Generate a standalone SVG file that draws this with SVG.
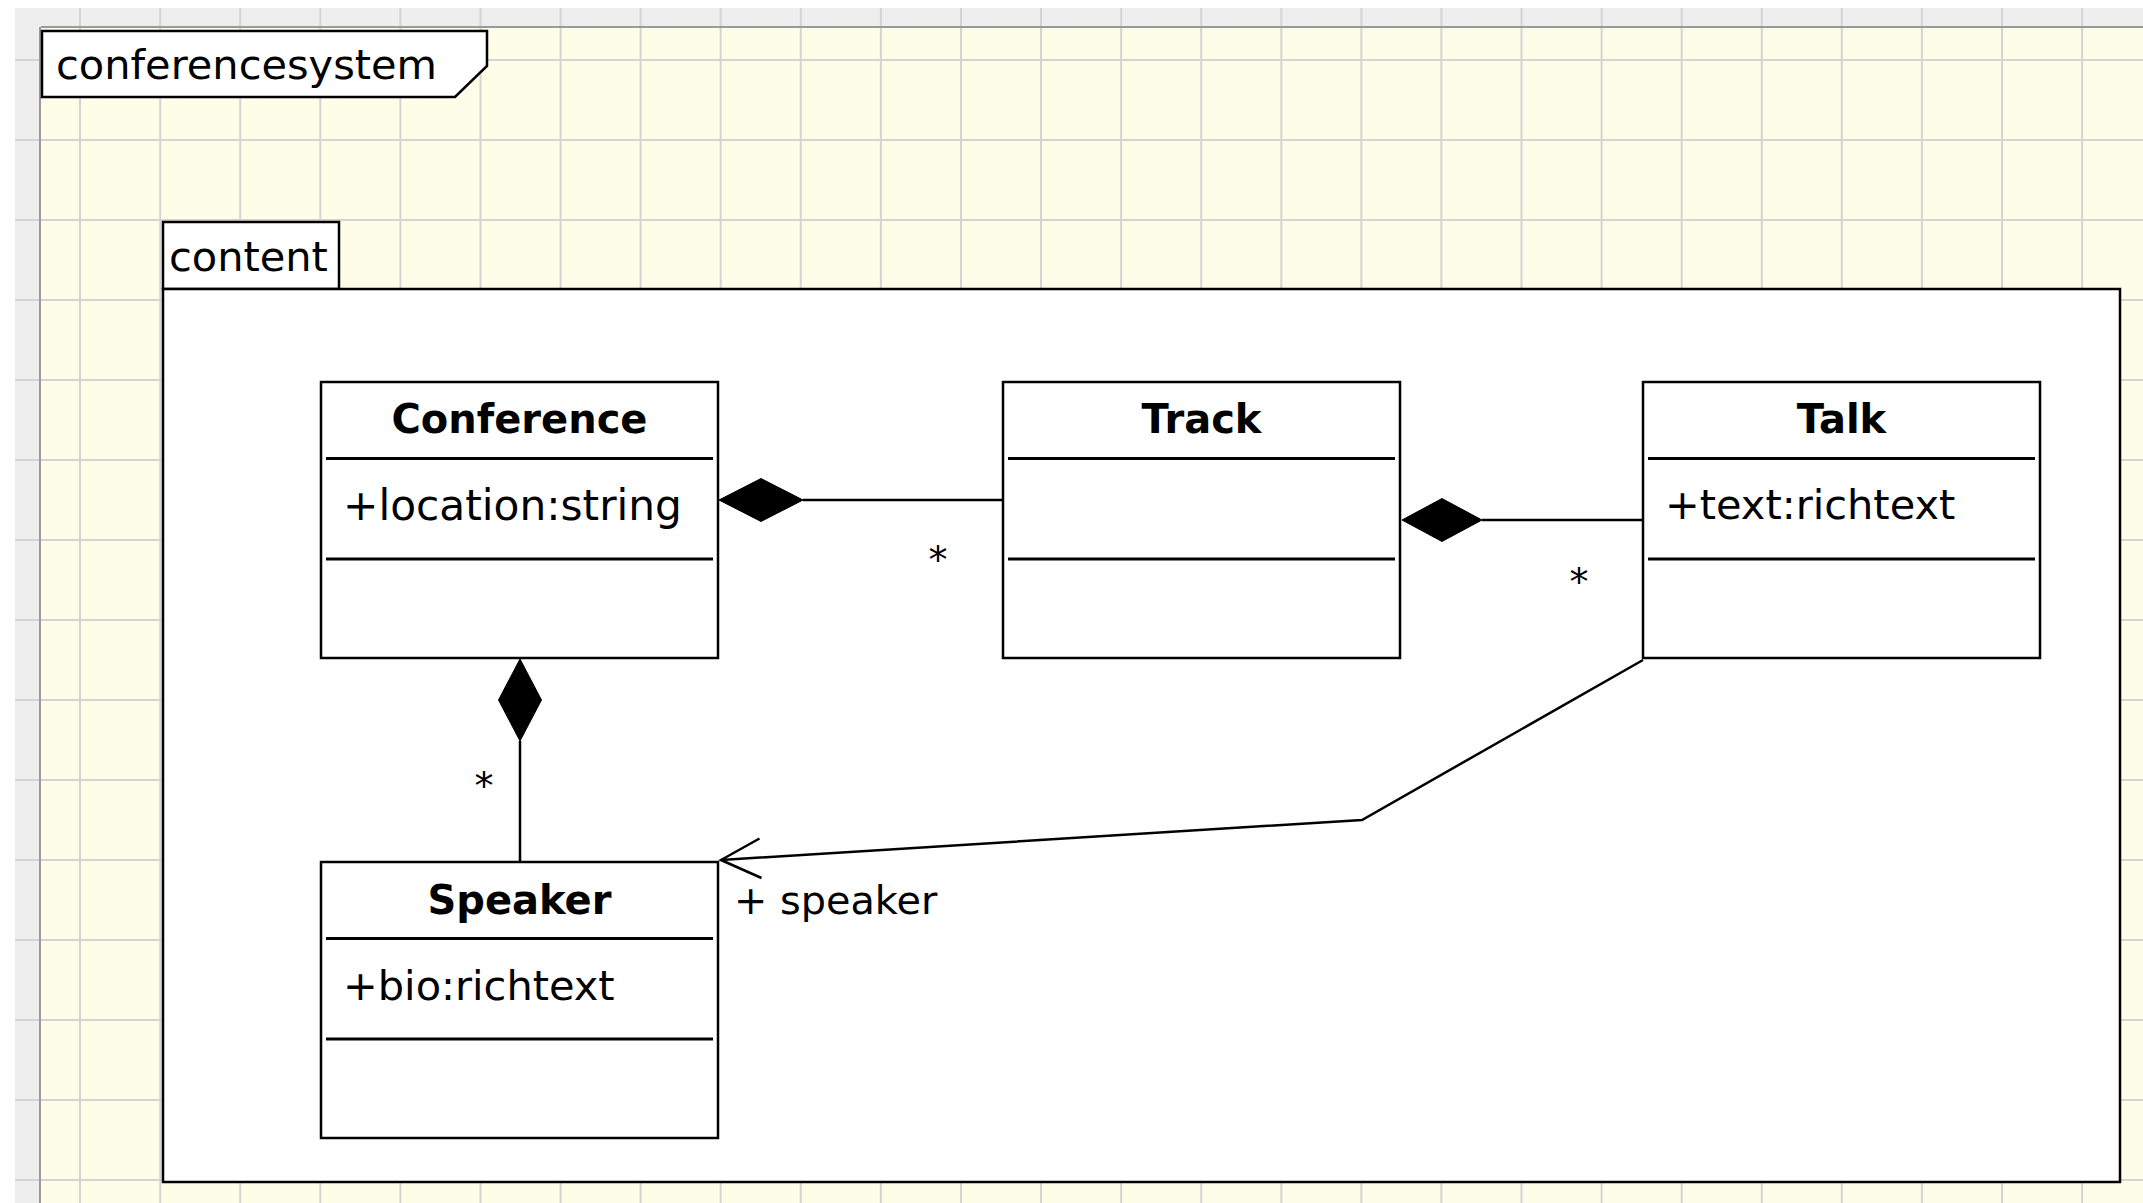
<svg xmlns="http://www.w3.org/2000/svg" width="2143" height="1203" viewBox="0 0 2143 1203">
<style>
.grid line{stroke:#d4d4d4;stroke-width:2}
.box{fill:#ffffff;stroke:#000000;stroke-width:2.5}
.sep{stroke:#000000;stroke-width:3}
.ln{fill:none;stroke:#000000;stroke-width:2.5}
.dia{fill:#000000;stroke:#000000;stroke-width:1}
.t{font-family:"DejaVu Sans","Liberation Sans",sans-serif;font-size:41.5px;fill:#000000}
.b{font-family:"DejaVu Sans","Liberation Sans",sans-serif;font-size:40px;font-weight:bold;fill:#000000;text-anchor:middle}
.m{text-anchor:middle;font-size:38px}
</style>
<rect x="0" y="0" width="2143" height="1203" fill="#ffffff"/>
<rect x="15" y="8" width="2128" height="1195" fill="#eeeeee"/>
<rect x="41" y="27" width="2102" height="1176" fill="#fefde8"/>
<g class="grid">
<line x1="80" y1="8" x2="80" y2="1203"/><line x1="160.2" y1="8" x2="160.2" y2="1203"/><line x1="240.2" y1="8" x2="240.2" y2="1203"/><line x1="320.3" y1="8" x2="320.3" y2="1203"/><line x1="400.4" y1="8" x2="400.4" y2="1203"/><line x1="480.5" y1="8" x2="480.5" y2="1203"/><line x1="560.6" y1="8" x2="560.6" y2="1203"/><line x1="640.6" y1="8" x2="640.6" y2="1203"/><line x1="720.7" y1="8" x2="720.7" y2="1203"/><line x1="800.8" y1="8" x2="800.8" y2="1203"/><line x1="880.9" y1="8" x2="880.9" y2="1203"/><line x1="961" y1="8" x2="961" y2="1203"/><line x1="1041" y1="8" x2="1041" y2="1203"/><line x1="1121.1" y1="8" x2="1121.1" y2="1203"/><line x1="1201.2" y1="8" x2="1201.2" y2="1203"/><line x1="1281.3" y1="8" x2="1281.3" y2="1203"/><line x1="1361.4" y1="8" x2="1361.4" y2="1203"/><line x1="1441.4" y1="8" x2="1441.4" y2="1203"/><line x1="1521.5" y1="8" x2="1521.5" y2="1203"/><line x1="1601.6" y1="8" x2="1601.6" y2="1203"/><line x1="1681.7" y1="8" x2="1681.7" y2="1203"/><line x1="1761.8" y1="8" x2="1761.8" y2="1203"/><line x1="1841.8" y1="8" x2="1841.8" y2="1203"/><line x1="1921.9" y1="8" x2="1921.9" y2="1203"/><line x1="2002" y1="8" x2="2002" y2="1203"/><line x1="2082.1" y1="8" x2="2082.1" y2="1203"/>
<line x1="15" y1="60" x2="2143" y2="60"/><line x1="15" y1="140" x2="2143" y2="140"/><line x1="15" y1="220" x2="2143" y2="220"/><line x1="15" y1="300" x2="2143" y2="300"/><line x1="15" y1="380" x2="2143" y2="380"/><line x1="15" y1="460" x2="2143" y2="460"/><line x1="15" y1="540" x2="2143" y2="540"/><line x1="15" y1="620" x2="2143" y2="620"/><line x1="15" y1="700" x2="2143" y2="700"/><line x1="15" y1="780" x2="2143" y2="780"/><line x1="15" y1="860" x2="2143" y2="860"/><line x1="15" y1="940" x2="2143" y2="940"/><line x1="15" y1="1020" x2="2143" y2="1020"/><line x1="15" y1="1100" x2="2143" y2="1100"/><line x1="15" y1="1180" x2="2143" y2="1180"/>
</g>
<line x1="41" y1="27" x2="2143" y2="27" stroke="#9a9a9a" stroke-width="2"/>
<line x1="40" y1="27" x2="40" y2="1203" stroke="#9a9a9a" stroke-width="2"/>

<g id="pkg-conferencesystem">
<path class="box" d="M42,31 H487 V66 L455,97 H42 Z"/>
<text class="t" x="56" y="79">conferencesystem</text>
</g>
<g id="pkg-content">
<rect class="box" x="163" y="222" width="176" height="67"/>
<rect class="box" x="163" y="289" width="1957" height="893"/>
<text class="t" x="169" y="271">content</text>
</g>

<g id="class-conference">
<rect class="box" x="321" y="382" width="397" height="276"/>
<line class="sep" x1="326" y1="458.5" x2="713" y2="458.5"/>
<line class="sep" x1="326" y1="559" x2="713" y2="559"/>
<text class="b" x="519.5" y="433">Conference</text>
<text class="t" x="343" y="520" style="font-size:42.3px">+location:string</text>
</g>
<g id="class-track">
<rect class="box" x="1003" y="382" width="397" height="276"/>
<line class="sep" x1="1008" y1="458.5" x2="1395" y2="458.5"/>
<line class="sep" x1="1008" y1="559" x2="1395" y2="559"/>
<text class="b" x="1201.5" y="433">Track</text>
</g>
<g id="class-talk">
<rect class="box" x="1643" y="382" width="397" height="276"/>
<line class="sep" x1="1648" y1="458.5" x2="2035" y2="458.5"/>
<line class="sep" x1="1648" y1="559" x2="2035" y2="559"/>
<text class="b" x="1841.5" y="433">Talk</text>
<text class="t" x="1665" y="519">+text:richtext</text>
</g>
<g id="class-speaker">
<rect class="box" x="321" y="862" width="397" height="276"/>
<line class="sep" x1="326" y1="938.5" x2="713" y2="938.5"/>
<line class="sep" x1="326" y1="1039" x2="713" y2="1039"/>
<text class="b" x="519.5" y="914">Speaker</text>
<text class="t" x="343" y="1000">+bio:richtext</text>
</g>

<g id="connectors">
<line class="ln" x1="803" y1="500" x2="1003" y2="500"/>
<polygon class="dia" points="719,500 761,478.5 803,500 761,521.5"/>
<text class="t m" x="938" y="573">*</text>
<line class="ln" x1="1482" y1="520" x2="1643" y2="520"/>
<polygon class="dia" points="1402,520 1442,498.5 1482,520 1442,541.5"/>
<text class="t m" x="1579" y="595">*</text>
<line class="ln" x1="520" y1="741" x2="520" y2="862"/>
<polygon class="dia" points="520,659 541.5,700 520,741 498.5,700"/>
<text class="t m" x="484" y="799">*</text>
<polyline class="ln" points="1643,660 1362,820 721,860"/>
<polyline class="ln" points="759.5,838.5 721,860 761.5,878"/>
<text class="t" x="734" y="914" style="font-size:39.8px">+ speaker</text>
</g>
</svg>
